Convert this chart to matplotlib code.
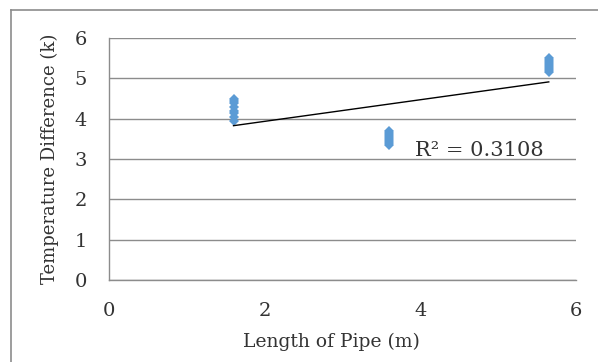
import matplotlib
matplotlib.use("Agg")
import matplotlib.pyplot as plt
from matplotlib.lines import Line2D
import numpy as np

# Data
x_groups = [1.6, 3.6, 5.65]
y_group1 = [3.95, 4.05, 4.15, 4.2, 4.3, 4.4, 4.45, 4.5]
y_group2 = [3.35, 3.4, 3.45, 3.5, 3.55, 3.6, 3.65, 3.7]
y_group3 = [5.15, 5.2, 5.25, 5.3, 5.35, 5.4, 5.45, 5.5]
r2_label = "R² = 0.3108"
x_ticks = [0, 2, 4, 6]
y_ticks = [0, 1, 2, 3, 4, 5, 6]
x_label = "Length of Pipe (m)"
y_label = "Temperature Difference (k)"

xs = np.concatenate([[x_groups[0]] * len(y_group1),
                     [x_groups[1]] * len(y_group2),
                     [x_groups[2]] * len(y_group3)])
ys = np.concatenate([y_group1, y_group2, y_group3])

plt.rcParams['font.family'] = ['DejaVu Serif']

fig = plt.figure(figsize=(5.98, 3.62), dpi=100)
ax = fig.add_axes([109/598, 1-280/362, (576-109)/598, (280-38)/362])

grid_col = '#8c8c8c'
txt_col = '#333333'
ax.set_xlim(0, 6)
ax.set_ylim(0, 6)
ax.set_xticks(x_ticks)
ax.set_yticks(y_ticks)
ax.yaxis.grid(True, color=grid_col, linewidth=1.0)
ax.set_axisbelow(True)
for s in ['top', 'right']:
    ax.spines[s].set_visible(False)
for s in ['left', 'bottom']:
    ax.spines[s].set_color(grid_col)
    ax.spines[s].set_linewidth(1.0)
ax.tick_params(length=0, labelsize=14, colors=txt_col)
ax.tick_params(axis='y', pad=16)
ax.tick_params(axis='x', pad=16)

ax.plot(xs, ys, linestyle='none', marker='D', markersize=5.5,
        color='#5b9bd5', markeredgewidth=0)

coef = np.polyfit(xs, ys, 1)
xl = np.array([min(xs), max(xs)])
ax.plot(xl, np.polyval(coef, xl), color='black', linewidth=1.0)

ax.text(3.93, 3.22, r2_label, fontsize=15, va='center', ha='left', color=txt_col)

ax.set_xlabel(x_label, fontsize=13.5, labelpad=9, color=txt_col)
ax.xaxis.set_label_coords(0.477, -0.22)
ax.set_ylabel(y_label, fontsize=13, labelpad=11, color=txt_col)

# outer chart frame
fig.add_artist(Line2D([11/598, 11/598], [0, 1-10/362], transform=fig.transFigure,
                      color='#8c8c8c', linewidth=1.2))
fig.add_artist(Line2D([11/598, 1], [1-10/362, 1-10/362], transform=fig.transFigure,
                      color='#8c8c8c', linewidth=1.2))

fig.savefig("out.png", dpi=100)
